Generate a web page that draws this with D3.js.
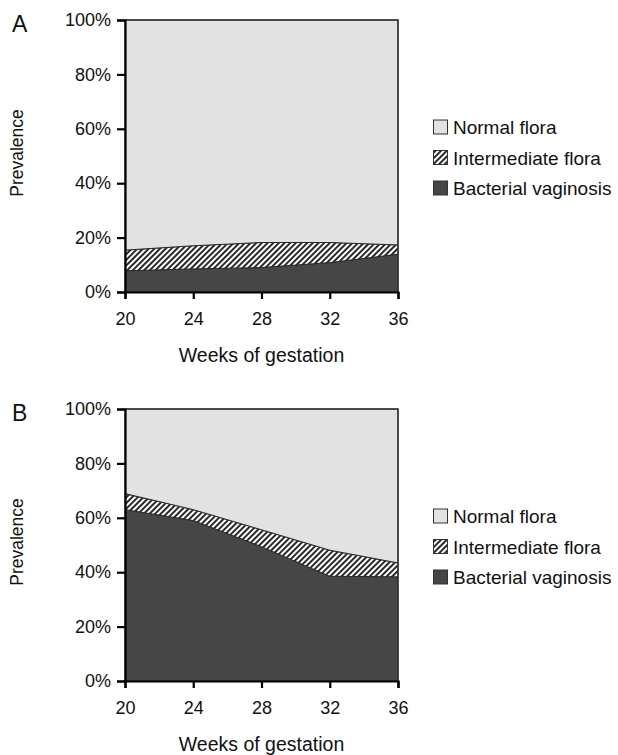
<!DOCTYPE html>
<html>
<body style="margin:0;background:#fff">
<style>
body { font-family: "Liberation Sans", Arial, sans-serif; }
.tick text { font-family: "Liberation Sans", Arial, sans-serif; }
</style>
<div id="chart"></div>
<script src="https://d3js.org/d3.v7.min.js"></script>
<script>

var weeks = [20, 24, 28, 32, 36];
var xTicks = [20, 24, 28, 32, 36];
var yTicks = [0, 20, 40, 60, 80, 100];

// panel A (percent)
var bvA = [7.8, 8.5, 9.0, 10.8, 13.9];
var intA = [7.6, 8.5, 9.2, 7.4, 3.4];
// panel B (percent)
var bvB = [63.0, 59.0, 49.4, 38.5, 38.3];
var intB = [5.9, 4.0, 6.2, 9.6, 5.1];

var keys = ["bv", "inter", "normal"];
var legendLabels = ["Normal flora", "Intermediate flora", "Bacterial vaginosis"];
var legendKeys = ["normal", "inter", "bv"];

var width = 618, height = 755;

var svg = d3.select("#chart").append("svg")
    .attr("width", width)
    .attr("height", height);

var defs = svg.append("defs");
var hatch = defs.append("pattern")
    .attr("id", "hatch")
    .attr("patternUnits", "userSpaceOnUse")
    .attr("width", 4)
    .attr("height", 4)
    .attr("patternTransform", "rotate(45)");
hatch.append("rect").attr("width", 4).attr("height", 4).attr("fill", "#fff");
hatch.append("line")
    .attr("x1", 1).attr("y1", 0).attr("x2", 1).attr("y2", 4)
    .attr("stroke", "#111").attr("stroke-width", 1.8);

var fills = { normal: "#e2e2e2", inter: "url(#hatch)", bv: "#464646" };

var x = d3.scaleLinear().domain([20, 36]).range([125, 398]);

function panel(letter, top, bv, inter) {
  var y = d3.scaleLinear().domain([0, 100]).range([top + 272, top]);
  var g = svg.append("g");

  var rows = weeks.map(function(w, i) {
    return { week: w, bv: bv[i], inter: inter[i], normal: 100 - bv[i] - inter[i] };
  });
  var series = d3.stack().keys(keys)(rows);

  var area = d3.area()
      .x(function(d) { return x(d.data.week); })
      .y0(function(d) { return y(d[0]); })
      .y1(function(d) { return y(d[1]); });

  g.selectAll(".layer")
    .data(series)
    .enter().append("path")
      .attr("class", "layer")
      .attr("d", area)
      .attr("fill", function(d) { return fills[d.key]; })
      .attr("stroke", "#2a2a2a")
      .attr("stroke-width", 1);

  // top and right frame
  g.append("path")
      .attr("d", "M" + x(20) + "," + y(100) + "H" + x(36) + "V" + y(0))
      .attr("fill", "none")
      .attr("stroke", "#333")
      .attr("stroke-width", 1.5);

  var yAxis = g.append("g")
      .attr("transform", "translate(" + x(20) + ",0)")
      .call(d3.axisLeft(y).tickValues(yTicks).tickSize(8).tickPadding(6)
        .tickFormat(function(d) { return d + "%"; }));
  var xAxis = g.append("g")
      .attr("transform", "translate(0," + y(0) + ")")
      .call(d3.axisBottom(x).tickValues(xTicks).tickSize(7).tickPadding(13));

  [yAxis, xAxis].forEach(function(a) {
    a.select(".domain").attr("stroke", "#000").attr("stroke-width", 2.2);
    a.selectAll(".tick line").attr("stroke", "#000").attr("stroke-width", 2.2);
    a.selectAll(".tick text").attr("font-size", 18).attr("fill", "#111");
  });

  g.append("text")
      .attr("x", 12).attr("y", top + 12)
      .attr("font-size", 23)
      .attr("fill", "#111")
      .text(letter);

  g.append("text")
      .attr("transform", "translate(23," + (top + 133) + ") rotate(-90)")
      .attr("text-anchor", "middle")
      .attr("font-size", 17.5)
      .attr("fill", "#111")
      .text("Prevalence");

  g.append("text")
      .attr("x", (x(20) + x(36)) / 2)
      .attr("y", y(0) + 70)
      .attr("text-anchor", "middle")
      .attr("font-size", 19.5)
      .attr("fill", "#111")
      .text("Weeks of gestation");

  var leg = g.selectAll(".leg")
    .data(legendKeys)
    .enter().append("g")
      .attr("class", "leg")
      .attr("transform", function(d, i) { return "translate(433," + (top + 107 + i * 30.5) + ")"; });
  leg.append("rect")
      .attr("x", 0.5).attr("y", -7)
      .attr("width", 14).attr("height", 14)
      .attr("fill", function(d) { return fills[d]; })
      .attr("stroke", "#333")
      .attr("stroke-width", 1);
  leg.append("text")
      .attr("x", 20).attr("y", 7)
      .attr("font-size", 19)
      .attr("fill", "#111")
      .text(function(d, i) { return legendLabels[i]; });
}

panel("A", 20, bvA, intA);
panel("B", 409, bvB, intB);

</script>
</body>
</html>
